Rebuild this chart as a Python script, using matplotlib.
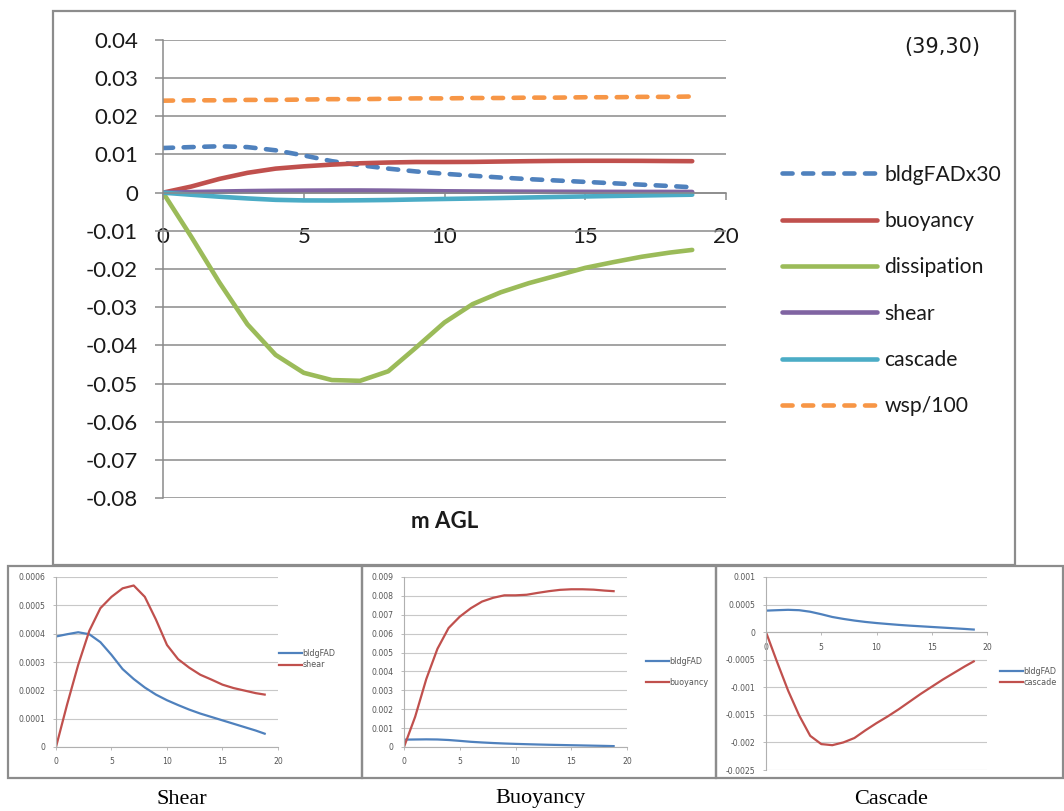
import matplotlib
matplotlib.use("Agg")
import matplotlib.pyplot as plt
from matplotlib.patches import Rectangle
from matplotlib.ticker import FuncFormatter, MultipleLocator

# ---------------- data ----------------
x = [0, 1, 2, 3, 4, 5, 6, 7, 8, 9, 10, 11, 12, 13, 14, 15, 16, 17, 18, 18.8]

bldgFAD = [0.00039, 0.000398, 0.000405, 0.000398, 0.00037, 0.000325, 0.000275,
           0.00024, 0.00021, 0.000185, 0.000165, 0.000148, 0.000132, 0.000118,
           0.000106, 0.000094, 0.000082, 0.00007, 0.000058, 0.000047]
buoyancy = [0.0, 0.0016, 0.0036, 0.0052, 0.0063, 0.0069, 0.00735, 0.0077, 0.0079,
            0.00803, 0.00803, 0.00806, 0.00816, 0.00825, 0.00832, 0.00835,
            0.00835, 0.00833, 0.00828, 0.00825]
dissipation = [0.0, -0.0115, -0.0235, -0.0345, -0.0425, -0.0472, -0.0491, -0.0493,
               -0.0468, -0.0405, -0.034, -0.0292, -0.0261, -0.0237, -0.0217,
               -0.0197, -0.0182, -0.0168, -0.0157, -0.015]
shear = [0.0, 0.00015, 0.00029, 0.00041, 0.00049, 0.00053, 0.00056, 0.00057,
         0.00053, 0.00045, 0.00036, 0.00031, 0.00028, 0.000255, 0.000238,
         0.00022, 0.000208, 0.000199, 0.00019, 0.000185]
cascade = [0.0, -0.00054, -0.00106, -0.00151, -0.00188, -0.00203, -0.00205,
           -0.002, -0.00192, -0.00178, -0.00165, -0.00153, -0.0014, -0.00126,
           -0.00112, -0.00099, -0.00086, -0.00074, -0.00062, -0.00053]
wsp100 = [0.0241, 0.0242, 0.0242, 0.0243, 0.0243, 0.0244, 0.0245, 0.0245, 0.0246,
          0.0247, 0.0247, 0.0248, 0.0248, 0.0249, 0.0249, 0.025, 0.025, 0.0251,
          0.0251, 0.0252]
bldg_scale = 30

main_labels = ["bldgFADx30", "buoyancy", "dissipation", "shear", "cascade", "wsp/100"]
captions = ["Shear", "Buoyancy", "Cascade"]
point_label = "(39,30)"
xlabel = "m AGL"

# ---------------- style ----------------
BLUE, RED, GREEN, PURPLE, AQUA, ORANGE = ("#4F81BD", "#C0504D", "#9BBB59",
                                          "#8064A2", "#4BACC6", "#F79646")
GRID = "#8a8a8a"
W, H = 1064, 811


def fig_rect(l, t, r, b):
    return [l / W, 1 - b / H, (r - l) / W, (b - t) / H]


def fmt(v, pos=None):
    s = f"{v:.4f}".rstrip("0").rstrip(".")
    if s in ("-0", ""):
        s = "0"
    return s


fig = plt.figure(figsize=(W / 100, H / 100), dpi=100)
fig.patch.set_facecolor("white")

# borders
for (l, t, r, b) in [(53, 11, 1015, 565), (8, 566, 362, 778), (362, 566, 716, 778),
                     (716, 566, 1063, 778)]:
    fig.add_artist(Rectangle((l / W, 1 - b / H), (r - l) / W, (b - t) / H,
                             transform=fig.transFigure, fill=False,
                             edgecolor="#8c8c8c", lw=1.6))

# ---------------- main chart ----------------
mfont = "Lato"
ax = fig.add_axes(fig_rect(163, 40, 726, 498))
lw = 3.3
dash = dict(linestyle=(0, (2.2, 2.3)), dash_capstyle="round")
ax.plot(x, [v * bldg_scale for v in bldgFAD], color=BLUE, lw=lw, label=main_labels[0], **dash)
ax.plot(x, buoyancy, color=RED, lw=lw, label=main_labels[1], solid_capstyle="round",
        solid_joinstyle="round")
ax.plot(x, dissipation, color=GREEN, lw=lw, label=main_labels[2], solid_capstyle="round",
        solid_joinstyle="round")
ax.plot(x, shear, color=PURPLE, lw=lw, label=main_labels[3], solid_capstyle="round",
        solid_joinstyle="round")
ax.plot(x, cascade, color=AQUA, lw=lw, label=main_labels[4], solid_capstyle="round",
        solid_joinstyle="round")
ax.plot(x, wsp100, color=ORANGE, lw=lw, label=main_labels[5], **dash)

ax.set_xlim(0, 20)
ax.set_ylim(-0.08, 0.04)
ax.yaxis.set_major_locator(MultipleLocator(0.01))
ax.xaxis.set_major_locator(MultipleLocator(5))
ax.yaxis.set_major_formatter(FuncFormatter(fmt))
ax.xaxis.set_major_formatter(FuncFormatter(fmt))
ax.grid(axis="y", color=GRID, lw=1.1)
ax.set_axisbelow(True)
for s in ("top", "right"):
    ax.spines[s].set_visible(False)
ax.spines["bottom"].set_position(("data", 0))
ax.spines["bottom"].set_color(GRID)
ax.spines["left"].set_color(GRID)
ax.spines["bottom"].set_linewidth(1.1)
ax.spines["left"].set_linewidth(1.1)
ax.tick_params(axis="y", length=6, width=1.1, color=GRID, pad=12, labelsize=16)
ax.tick_params(axis="x", length=5, width=1.1, color=GRID, pad=20, labelsize=16)
for lab in ax.get_xticklabels() + ax.get_yticklabels():
    lab.set_fontfamily(mfont)
    lab.set_color("#1a1a1a")

leg = ax.legend(loc="center left", bbox_to_anchor=(782 / W, 1 - 290.5 / H),
                bbox_transform=fig.transFigure, frameon=False, handlelength=4.5,
                handletextpad=0.35, labelspacing=1.25, borderpad=0, borderaxespad=0,
                prop={"family": mfont, "size": 15.2})
for t in leg.get_texts():
    t.set_color("#1a1a1a")

fig.text(942 / W, 1 - 47 / H, point_label, ha="center", va="center",
         fontsize=15, family="DejaVu Sans", color="#1a1a1a")
fig.text(445 / W, 1 - 522 / H, xlabel, ha="center", va="center",
         fontsize=16, family=mfont, fontweight="bold", color="#1a1a1a")

# ---------------- small panels ----------------
small = [
    dict(rect=(56, 577, 278, 747), y2=shear, lab2="shear", ylim=(0, 0.0006),
         step=0.0001, leg=(279, 659), ls=0.35),
    dict(rect=(404, 577, 627, 747), y2=buoyancy, lab2="buoyancy", ylim=(0, 0.009),
         step=0.001, leg=(646, 672), ls=1.45),
    dict(rect=(766, 577, 987, 770), y2=cascade, lab2="cascade", ylim=(-0.0025, 0.001),
         step=0.0005, leg=(1000, 677), ls=0.3),
]
for i, p in enumerate(small):
    a = fig.add_axes(fig_rect(*p["rect"]))
    a.plot(x, bldgFAD, color=BLUE, lw=1.6, label="bldgFAD")
    a.plot(x, p["y2"], color=RED, lw=1.6, label=p["lab2"])
    a.set_xlim(0, 20)
    a.set_ylim(*p["ylim"])
    a.yaxis.set_major_locator(MultipleLocator(p["step"]))
    a.xaxis.set_major_locator(MultipleLocator(5))
    a.yaxis.set_major_formatter(FuncFormatter(fmt))
    a.xaxis.set_major_formatter(FuncFormatter(fmt))
    a.grid(axis="y", color="#c8c8c8", lw=0.8)
    a.set_axisbelow(True)
    for s in ("top", "right"):
        a.spines[s].set_visible(False)
    if p["ylim"][0] < 0:
        a.spines["bottom"].set_position(("data", 0))
    for s in ("bottom", "left"):
        a.spines[s].set_color("#b0b0b0")
        a.spines[s].set_linewidth(0.8)
    a.tick_params(length=2.5, width=0.6, color="#b0b0b0", labelsize=5.6,
                  labelcolor="#555555", pad=5)
    lg = a.legend(loc="center left", bbox_to_anchor=(p["leg"][0] / W, 1 - p["leg"][1] / H),
                  bbox_transform=fig.transFigure, frameon=False, handlelength=2.8,
                  handletextpad=0.1, labelspacing=p["ls"], borderpad=0,
                  borderaxespad=0, prop={"size": 5.8})
    for t in lg.get_texts():
        t.set_color("#555555")

for cx, cap in zip([182, 541, 891], captions):
    fig.text(cx / W, 1 - 799 / H, cap, ha="center", va="center", fontsize=16,
             family="Liberation Serif", color="black")

fig.savefig("out.png", dpi=100, facecolor="white")
